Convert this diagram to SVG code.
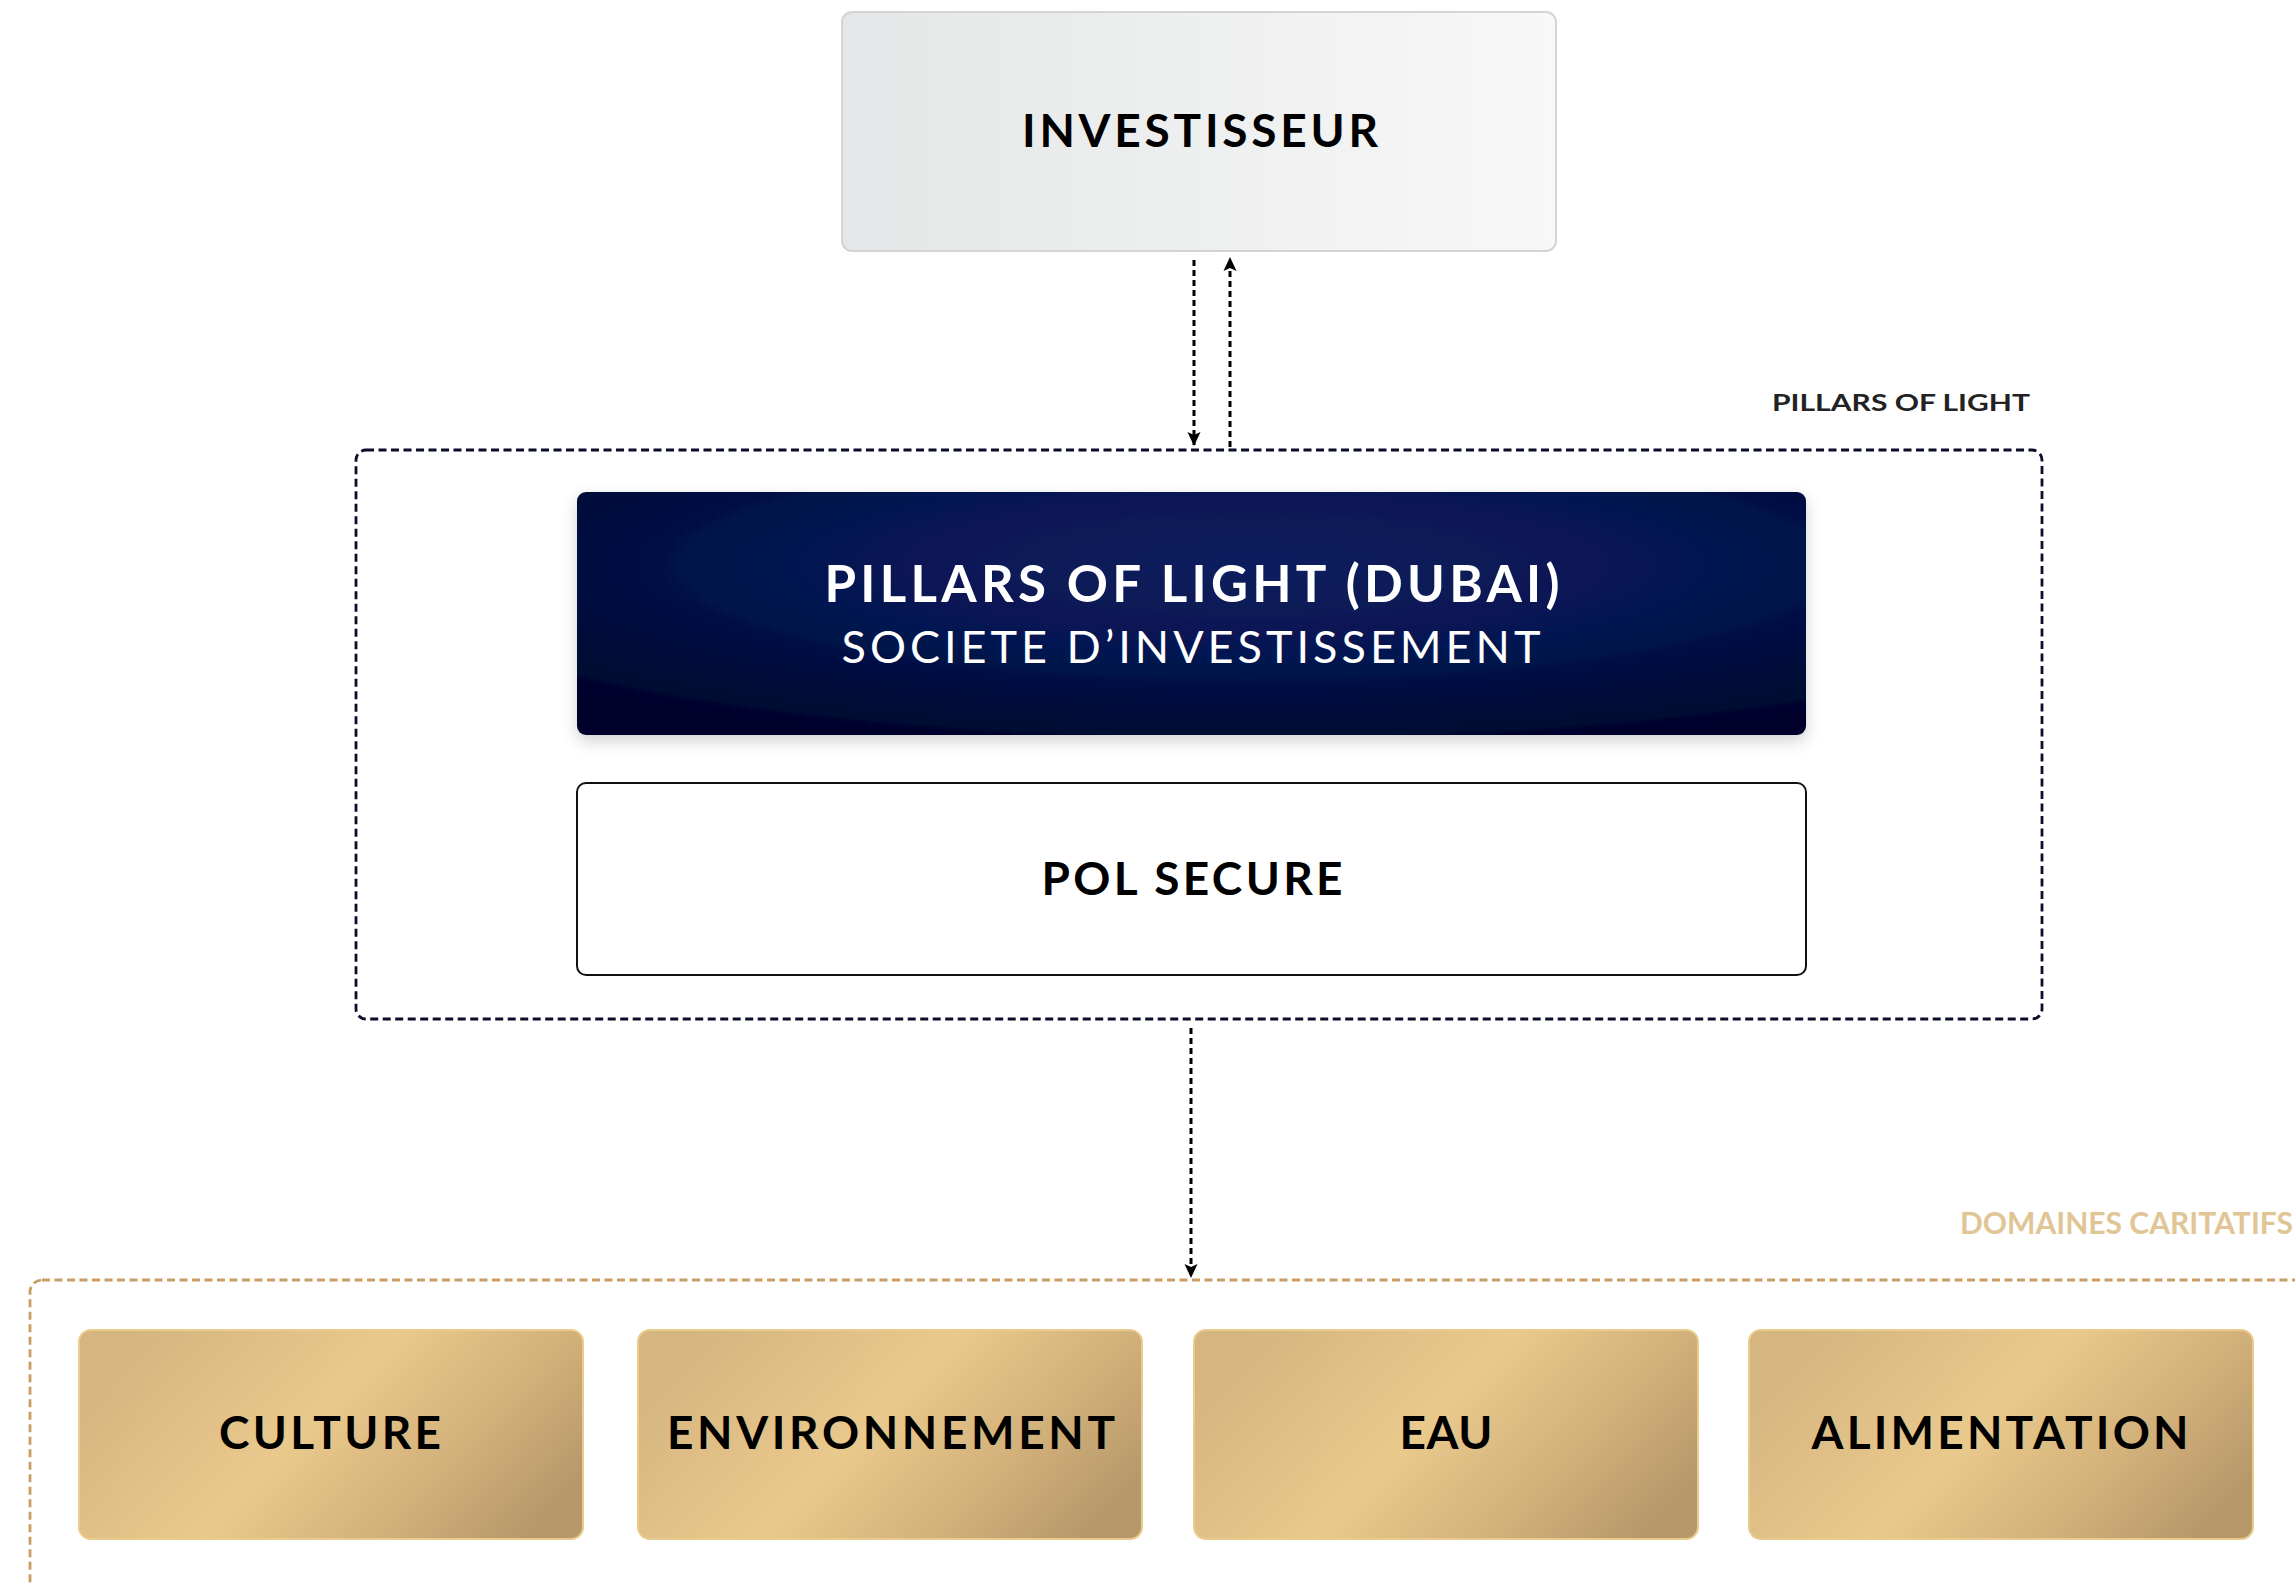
<svg xmlns="http://www.w3.org/2000/svg" width="2295" height="1583" viewBox="0 0 2295 1583">
<style>
.lbl{font-family:Lato,"Open Sans","DejaVu Sans",sans-serif;text-anchor:middle}
.blk{fill:#000;font-weight:700;font-size:46px}
.conn{fill:none;stroke:#000;stroke-width:3;stroke-dasharray:6 4}
.gold{stroke:#e9cb8c;stroke-width:2;fill:url(#gGold)}
</style>
<defs>
<linearGradient id="gInv" x1="0" y1="0" x2="1" y2="0">
<stop offset="0" stop-color="#e4e6e7"/>
<stop offset="1" stop-color="#f8f8f8"/>
</linearGradient>
<radialGradient id="gDark" cx="0.55" cy="0.3" r="0.75">
<stop offset="0" stop-color="#0a1e5c"/>
<stop offset="0.5" stop-color="#061652"/>
<stop offset="1" stop-color="#00052c"/>
</radialGradient>
<linearGradient id="gGold" x1="0" y1="0.3" x2="1" y2="0.7">
<stop offset="0" stop-color="#d5b580"/>
<stop offset="0.45" stop-color="#e9c98c"/>
<stop offset="0.75" stop-color="#d2b07a"/>
<stop offset="1" stop-color="#b6986a"/>
</linearGradient>
<filter id="sh" x="-5%" y="-10%" width="110%" height="130%">
<feDropShadow dx="0" dy="6" stdDeviation="8" flood-color="#000" flood-opacity="0.18"/>
</filter>
<marker id="arr" markerWidth="14" markerHeight="14" refX="13" refY="7" orient="auto" markerUnits="userSpaceOnUse">
<path d="M0,0.5 L14,7 L0,13.5 L3,7 z" fill="#000"/>
</marker>
</defs>
<rect width="2295" height="1583" fill="#fff"/>

<g id="containers">
<rect id="pillars-group" x="356" y="450" width="1686" height="569" rx="10" fill="none" stroke="#0b0d2a" stroke-width="2.8" stroke-dasharray="8 4.5"/>
<text x="2030" y="411" font-family="Lato,'Open Sans',sans-serif" font-size="23" font-weight="700" fill="#222" text-anchor="end" textLength="258" lengthAdjust="spacingAndGlyphs">PILLARS OF LIGHT</text>
<rect id="domaines-group" x="30" y="1280" width="2300" height="340" rx="12" fill="none" stroke="#c99d64" stroke-width="2.8" stroke-dasharray="8 4.5"/>
<text x="1960" y="1234" font-family="Lato,'Open Sans',sans-serif" font-size="30" font-weight="700" fill="#e0c595" textLength="333" lengthAdjust="spacingAndGlyphs">DOMAINES CARITATIFS</text>
</g>

<g id="investisseur">
<rect x="842" y="12" width="714" height="239" rx="10" fill="url(#gInv)" stroke="#d4d4d4" stroke-width="2"/>
<text class="lbl blk" x="1200" y="147" textLength="356" lengthAdjust="spacing">INVESTISSEUR</text>
</g>

<g id="pol-dubai">
<rect x="577" y="492" width="1229" height="243" rx="9" fill="url(#gDark)" filter="url(#sh)"/>
<text class="lbl" x="1192" y="602" font-size="51" font-weight="700" fill="#fff" textLength="735" lengthAdjust="spacing">PILLARS OF LIGHT (DUBAI)</text>
<text class="lbl" x="1191" y="663" font-size="45" font-weight="400" fill="#fff" textLength="699" lengthAdjust="spacing">SOCIETE D’INVESTISSEMENT</text>
</g>

<g id="pol-secure">
<rect x="577" y="783" width="1229" height="192" rx="9" fill="#fff" stroke="#111" stroke-width="2"/>
<text class="lbl blk" x="1192" y="895" textLength="301" lengthAdjust="spacing">POL SECURE</text>
</g>

<g id="culture">
<rect class="gold" x="79" y="1330" width="504" height="209" rx="12"/>
<text class="lbl blk" x="330" y="1449" textLength="222" lengthAdjust="spacing">CULTURE</text>
</g>
<g id="environnement">
<rect class="gold" x="638" y="1330" width="504" height="209" rx="12"/>
<text class="lbl blk" x="891" y="1449" textLength="448" lengthAdjust="spacing">ENVIRONNEMENT</text>
</g>
<g id="eau">
<rect class="gold" x="1194" y="1330" width="504" height="209" rx="12"/>
<text class="lbl blk" x="1446" y="1449" textLength="93" lengthAdjust="spacing">EAU</text>
</g>
<g id="alimentation">
<rect class="gold" x="1749" y="1330" width="504" height="209" rx="12"/>
<text class="lbl blk" x="2000" y="1449" textLength="377" lengthAdjust="spacing">ALIMENTATION</text>
</g>

<g id="connectors">
<line class="conn" x1="1194" y1="260" x2="1194" y2="445" marker-end="url(#arr)"/>
<line class="conn" x1="1230" y1="447" x2="1230" y2="258" marker-end="url(#arr)"/>
<line class="conn" x1="1191" y1="1028" x2="1191" y2="1277" marker-end="url(#arr)"/>
</g>
</svg>
